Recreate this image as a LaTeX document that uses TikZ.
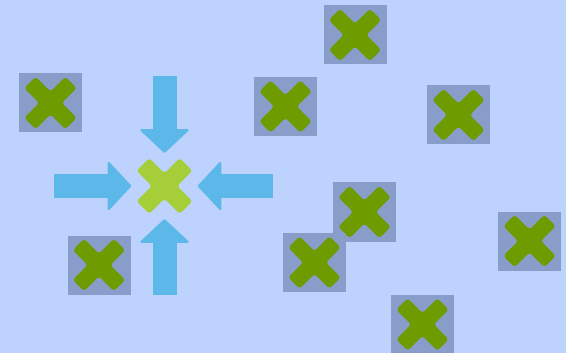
\documentclass[tikz,border=0pt]{standalone}
\usetikzlibrary{arrows.meta}
\definecolor{bgblue}{RGB}{189,211,253}
\definecolor{boxgray}{RGB}{136,157,201}
\definecolor{darkx}{RGB}{110,155,0}
\definecolor{lightx}{RGB}{166,206,57}
\definecolor{arrowblue}{RGB}{91,184,232}
% cross outline: #1 inner corner, #2 and #3 arm end corners
\newcommand{\xpath}[3]{(#2,#3) -- (#3,#2) -- (#1,0) -- (#3,-#2) -- (#2,-#3) -- (0,-#1) -- (-#2,-#3) -- (-#3,-#2) -- (-#1,0) -- (-#3,#2) -- (-#2,#3) -- (0,#1) -- cycle}
\tikzstyle{cell}=[fill=boxgray,minimum width=63pt,minimum height=59pt,inner sep=0pt,
  path picture={\fill[darkx,shift={(path picture bounding box.center)},rounded corners=3pt]\xpath{11.31}{14.85}{26.16};}]
\tikzstyle{goal}=[minimum size=66pt,inner sep=0pt,
  path picture={\fill[lightx,shift={(path picture bounding box.center)},rounded corners=3pt]\xpath{12.73}{15.2}{27.93};}]
\tikzstyle{push}=[draw=arrowblue,line width=24pt,-{Triangle[width=51pt,length=24pt,line width=2pt,round]}]

\begin{document}
\begin{tikzpicture}[x=1pt,y=-1pt]
\fill[bgblue] (0,0) rectangle (566,353);
\useasboundingbox (0,0) rectangle (566,353);
\node[cell] (P1) at (50.5,103) {};
\node[cell] (P2) at (99,265) {};
\node[cell] (P3) at (355,35) {};
\node[cell] (P4) at (285.5,106.5) {};
\node[cell] (P5) at (458.5,115) {};
\node[cell] (P6) at (364.5,212) {};
\node[cell] (P7) at (314.5,262.5) {};
\node[cell] (P8) at (529.5,241) {};
\node[cell] (P9) at (422.5,324.5) {};
\node[goal] (C) at (164.5,186) {};
\coordinate (N) at (164.5,76);\coordinate (S) at (164.5,295);
\coordinate (W) at (54,186);\coordinate (E) at (273,186);
\draw[push](N)--(C.north);\draw[push](S)--(C.south);
\draw[push](W)--(C.west);\draw[push](E)--(C.east);
\end{tikzpicture}
\end{document}
